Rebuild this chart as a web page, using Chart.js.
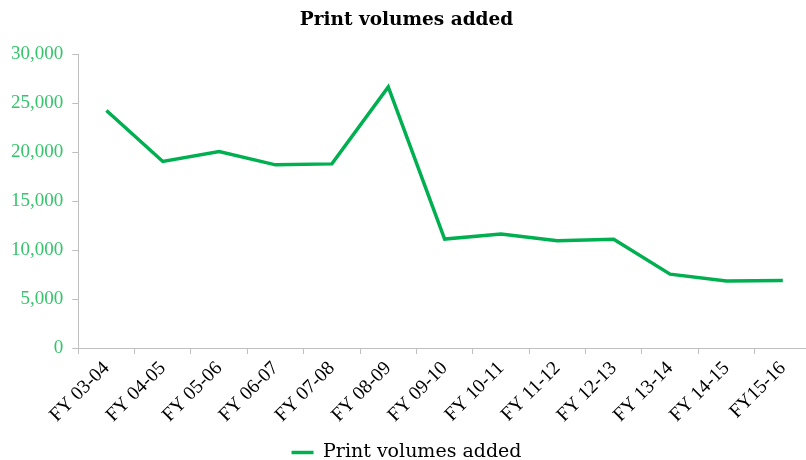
<!DOCTYPE html>
<html>
<head>
<meta charset="utf-8">
<script src="https://cdn.jsdelivr.net/npm/chart.js@4/dist/chart.umd.min.js"></script>
<style>
  html, body { margin: 0; padding: 0; background: #fff; overflow: hidden; }
  /* the category axis runs a few pixels past the right edge of the window */
  #wrap { width: 811px; height: 460px; }
</style>
</head>
<body>
<div id="wrap"><canvas id="volumes"></canvas></div>
<script>
// fiscal years and print volumes added per year
var years = ["FY 03-04", "FY 04-05", "FY 05-06", "FY 06-07", "FY 07-08", "FY 08-09", "FY 09-10",
             "FY 10-11", "FY 11-12", "FY 12-13", "FY 13-14", "FY 14-15", "FY15-16"];
var volumesAdded = [24250, 19050, 20050, 18700, 18800, 26650, 11120, 11630, 10960, 11100, 7540, 6830, 6890];
var yTicks = [0, 5000, 10000, 15000, 20000, 25000, 30000];

var green = '#00B050';
var tickGreen = '#35C46C';
var axisGrey = '#BFBFBF';
var serif = "'Liberation Serif', 'Times New Roman', serif";
var wideSerif = "'DejaVu Serif', serif";

function CreateVolumesChart(id) {
    var chart = document.getElementById(id).getContext("2d");

    var myLineChart = new Chart(chart, {
        type: 'line',
        data: {
            labels: years,
            datasets: [{
                label: 'Print volumes added',
                data: volumesAdded,
                borderColor: green,
                backgroundColor: green,
                borderWidth: 3.5,
                pointRadius: 0,
                tension: 0,
                fill: false
            }]
        },
        options: {
            responsive: true,
            maintainAspectRatio: false,
            animation: false,
            layout: { padding: { left: 2, right: 0, top: 0, bottom: -12 } },
            plugins: {
                title: {
                    display: true,
                    text: 'Print volumes added',
                    color: '#000',
                    font: { family: wideSerif, size: 18.5, weight: 'bold' },
                    padding: { top: 9, bottom: 23 }
                },
                legend: {
                    position: 'bottom',
                    labels: {
                        color: '#000',
                        font: { family: wideSerif, size: 19 },
                        usePointStyle: true,
                        pointStyle: 'line',
                        pointStyleWidth: 22,
                        padding: 0
                    }
                },
                tooltip: { enabled: false }
            },
            scales: {
                x: {
                    offset: true,
                    // leave room between the slanted year labels and the legend
                    afterFit: function (axis) { axis.height = 95; },
                    grid: { offset: true, drawOnChartArea: false, tickLength: 6, color: axisGrey },
                    border: { color: axisGrey, width: 1 },
                    ticks: {
                        color: '#000',
                        maxRotation: 45,
                        minRotation: 45,
                        autoSkip: false,
                        padding: 3,
                        font: { family: serif, size: 19.5 }
                    }
                },
                y: {
                    min: yTicks[0],
                    max: yTicks[yTicks.length - 1],
                    afterBuildTicks: function (axis) {
                        axis.ticks = yTicks.map(function (v) { return { value: v }; });
                    },
                    grid: { drawOnChartArea: false, tickLength: 6, color: axisGrey },
                    border: { color: axisGrey, width: 1 },
                    ticks: {
                        color: tickGreen,
                        padding: 9,
                        font: { family: serif, size: 19 },
                        callback: function (v) { return v.toLocaleString('en-US'); }
                    }
                }
            }
        }
    });
}

CreateVolumesChart("volumes");
</script>
</body>
</html>
